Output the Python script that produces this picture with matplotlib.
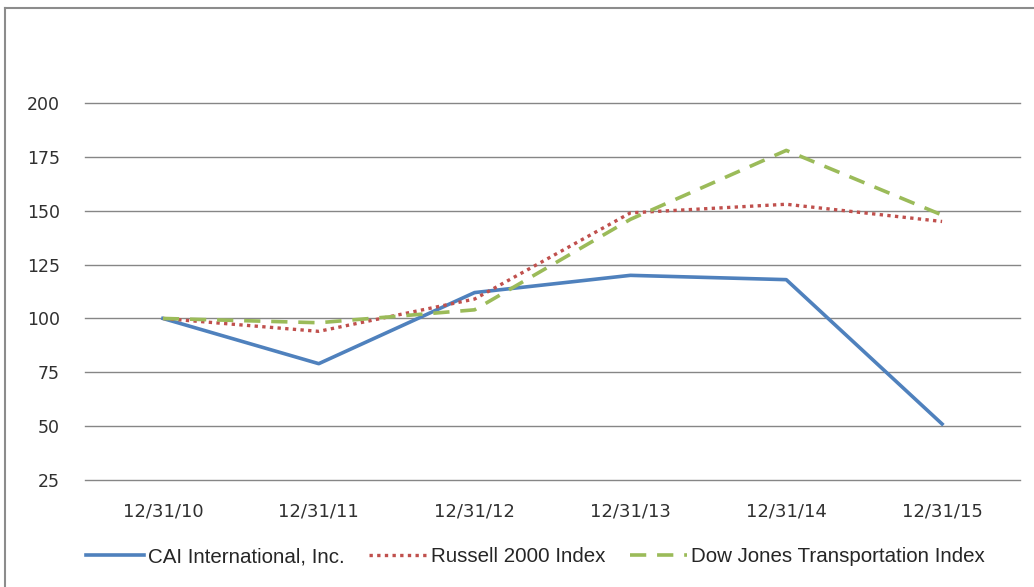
import numpy as np
import matplotlib.pyplot as plt
from matplotlib.lines import Line2D

# Data
dates = ['12/31/10', '12/31/11', '12/31/12', '12/31/13', '12/31/14', '12/31/15']
cai = [100, 79, 112, 120, 118, 51]
russell = [100, 94, 109, 149, 153, 145]
dow_jones = [100, 98, 104, 146, 178, 148]
yticks = [25, 50, 75, 100, 125, 150, 175, 200]

plt.rcParams['font.family'] = ['DejaVu Sans']

fig = plt.figure(figsize=(10.34, 5.87), dpi=100)
ax = fig.add_axes([85 / 1034, 1 - 480 / 587, (1020 - 85) / 1034, (480 - 103) / 587])

x = np.arange(len(dates))
blue_style = dict(color='#4F81BD', lw=2.6)
red_style = dict(color='#C0504D', lw=2.4, ls=(0, (1, 1.3)))
green_style = dict(color='#9BBB59', lw=2.6, ls=(0, (4.5, 3)))

ax.plot(x, cai, **blue_style)
ax.plot(x, russell, **red_style)
ax.plot(x, dow_jones, **green_style)

ax.set_xlim(-0.5, len(dates) - 0.5)
ax.set_ylim(25, 200)
ax.set_yticks(yticks)
ax.set_xticks(x)
ax.set_xticklabels(dates)
ax.tick_params(axis='both', length=0, labelsize=12.5, labelcolor='#303030')
ax.tick_params(axis='x', labelsize=13, pad=16)
ax.tick_params(axis='y', pad=18)
ax.grid(axis='y', color='#868686', lw=1.0)
for gl in ax.get_ygridlines():
    gl.set_clip_on(False)
ax.set_axisbelow(True)
for s in ax.spines.values():
    s.set_visible(False)

# legend at the bottom
handles = [Line2D([], [], **blue_style), Line2D([], [], **red_style),
           Line2D([], [], **green_style)]
labels = ['CAI International, Inc.', 'Russell 2000 Index', 'Dow Jones Transportation Index']
fig.legend(handles, labels, loc='center', bbox_to_anchor=(0.518, 1 - 557 / 587), ncol=3,
           frameon=False, prop={'family': 'Liberation Sans', 'size': 14.8},
           handlelength=2.8, columnspacing=1.2, handletextpad=0.2, labelcolor='#262626')

# outer frame (left and top edges visible)
fig.add_artist(Line2D([5 / 1034, 5 / 1034], [0, 1 - 8 / 587], color='#8c8c8c', lw=1.5,
                      transform=fig.transFigure))
fig.add_artist(Line2D([5 / 1034, 1], [1 - 8 / 587, 1 - 8 / 587], color='#8c8c8c', lw=1.5,
                      transform=fig.transFigure))

fig.savefig('out.png', dpi=100, facecolor='white')
